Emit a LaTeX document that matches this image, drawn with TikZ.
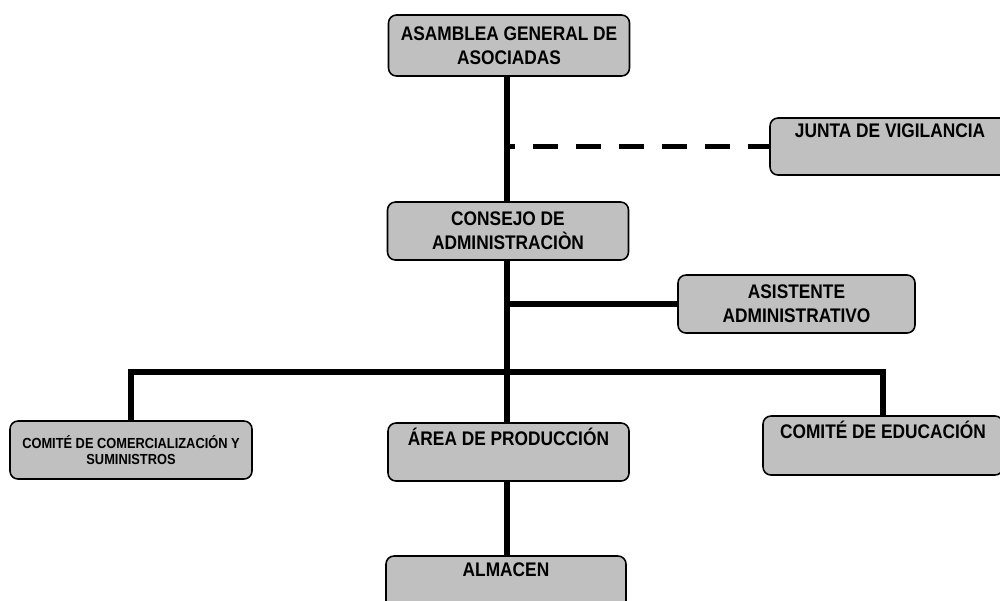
\documentclass[tikz,border=0pt]{standalone}
\usepackage{fontspec}
\setmainfont[FakeStretch=0.88]{Liberation Sans}
\definecolor{gris}{RGB}{192,192,192}

\begin{document}
\begin{tikzpicture}[x=0.02cm, y=-0.02cm]
  % Rahmen.
  \clip (0, 0) rectangle (1000, 600);

  % Stile.
  \tikzstyle{caja}=[draw, fill=gris, rounded corners=4.5pt, line width=0.9pt, align=center, inner sep=0pt, minimum width=4.82cm, minimum height=1.16cm, font=\bfseries\fontsize{11.2}{13.6}\selectfont]
  \tikzstyle{chica}=[font=\bfseries\fontsize{8.3}{9}\selectfont]
  \tikzstyle{linea}=[line width=3.4pt]
  \tikzstyle{vigilancia}=[dash pattern=on 0.5cm off 0.36cm, dash phase=0.34cm]

  % Organigramm.
  \node[caja, minimum height=1.22cm] (asamblea) at (509, 45.5) {ASAMBLEA GENERAL DE\\ASOCIADAS};
  \node[caja, minimum width=4.8cm, minimum height=1.14cm] (junta) at (890, 146.5) {JUNTA DE VIGILANCIA\\\strut};
  \node[caja] (consejo) at (508, 231) {CONSEJO DE\\ADMINISTRACIÒN};
  \node[caja, minimum width=4.74cm] (asistente) at (796.5, 304) {ASISTENTE\\ADMINISTRATIVO};
  \node[caja, chica, minimum width=4.84cm] (comercial) at (131, 450) {COMITÉ DE COMERCIALIZACIÓN Y\\SUMINISTROS};
  \node[caja] (area) at (508.5, 452) {ÁREA DE PRODUCCIÓN\\\strut};
  \node[caja, minimum width=4.8cm, minimum height=1.18cm] (educacion) at (883, 445.5) {COMITÉ DE EDUCACIÓN\\\strut};
  \node[caja, minimum width=4.8cm] (almacen) at (506, 585) {ALMACEN\\\strut};

  % Linien.
  \coordinate (eje) at (507, 0);
  \coordinate (barra) at (0, 372);

  \draw[linea] (asamblea.south -| eje) -- (consejo.north -| eje);
  \draw[linea] (consejo.south -| eje) -- (area.north -| eje);
  \draw[linea, vigilancia] (eje |- junta) -- (junta.west);
  \draw[linea] (eje |- asistente) -- (asistente.west);
  \draw[linea] (comercial.north) -- (comercial.north |- barra) -- (educacion.north |- barra) -- (educacion.north);
  \draw[linea] (area.south -| eje) -- (almacen.north -| eje);
\end{tikzpicture}
\end{document}
